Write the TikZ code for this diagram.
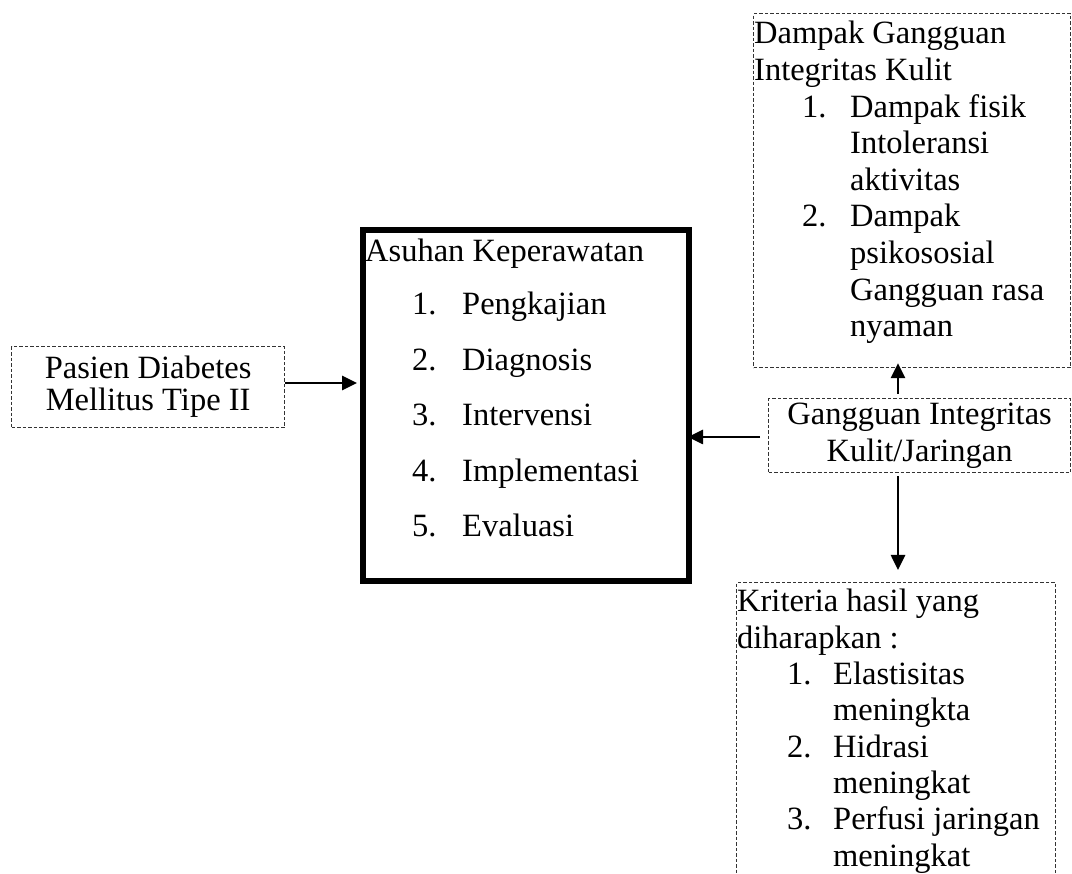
\documentclass[tikz,border=0pt]{standalone}
\usepackage{fontspec}
\setmainfont{Liberation Serif}
\usetikzlibrary{arrows.meta}

\tikzset{
  dbox/.style={draw=black!80, line width=1.2pt, dash pattern=on 3.5pt off 2pt, inner sep=0pt, anchor=north west},
  mainbox/.style={draw, line width=6pt, inner sep=0pt, anchor=north west},
  txt/.style={anchor=base west, inner sep=0pt},
  arr/.style={line width=2.6pt, -{Triangle[length=15pt,width=14pt]}}
}

\begin{document}
\begin{tikzpicture}[x=1pt,y=-1pt,font=\fontsize{32.5}{37}\selectfont]
\useasboundingbox (0,0) rectangle (1072,874);
\clip (0,0) rectangle (1072,874);

\node[dbox, minimum width=273pt, minimum height=81pt, align=center,
      font=\fontsize{32.5}{32}\selectfont] (pasien) at (11,346) {Pasien Diabetes\\Mellitus Tipe II};
\node[mainbox, minimum width=326pt, minimum height=351pt] (asuhan) at (360,227) {};
\node[dbox, minimum width=317pt, minimum height=354pt] (dampak) at (753,13) {};
\node[dbox, minimum width=302pt, minimum height=74pt, align=center] (gangguan) at (768,398) {Gangguan Integritas\\Kulit/Jaringan};
\node[dbox, minimum width=319pt, minimum height=340pt] (kriteria) at (736,582) {};

\node[txt] (ahead) at (365,262) {Asuhan Keperawatan};
\foreach \t [count=\i] in {Pengkajian, Diagnosis, Intervensi, Implementasi, Evaluasi}{
  \node[txt] (an\i) at (412,259.5+55.5*\i) {\i.};
  \node[txt] (at\i) at (462,259.5+55.5*\i) {\t};
}

\foreach \t [count=\i from 0] in {Dampak Gangguan, Integritas Kulit}
  \node[txt] (dh\i) at (754,44+36.6*\i) {\t};
\foreach \n/\y in {1/2, 2/5}
  \node[txt] (dn\n) at (802,44+36.6*\y) {\n.};
\foreach \t/\y [count=\i] in {Dampak fisik/2, Intoleransi/3, aktivitas/4, Dampak/5, psikososial/6, Gangguan rasa/7, nyaman/8}
  \node[txt] (dt\i) at (850,44+36.6*\y) {\t};

\foreach \t [count=\i from 0] in {Kriteria hasil yang, diharapkan :}
  \node[txt] (kh\i) at (737,612+36.3*\i) {\t};
\foreach \n/\y in {1/2, 2/4, 3/6}
  \node[txt] (kn\n) at (787,612+36.3*\y) {\n.};
\foreach \t/\y [count=\i] in {Elastisitas/2, meningkta/3, Hidrasi/4, meningkat/5, Perfusi jaringan/6, meningkat/7}
  \node[txt] (kt\i) at (833,612+36.3*\y) {\t};

\coordinate (vline) at (898,0);
\draw[arr] (pasien.east |- 0,383) -- ([xshift=-3pt]asuhan.west |- 0,383);
\draw[arr, shorten <=8pt, shorten >=-4pt] (gangguan.west |- 0,437) -- (asuhan.east |- 0,437);
\draw[arr, shorten <=4pt, shorten >=-5pt] (vline |- gangguan.north) -- (vline |- dampak.south);
\draw[arr, shorten <=3pt, shorten >=12pt] (vline |- gangguan.south) -- (vline |- kriteria.north);
\end{tikzpicture}
\end{document}
